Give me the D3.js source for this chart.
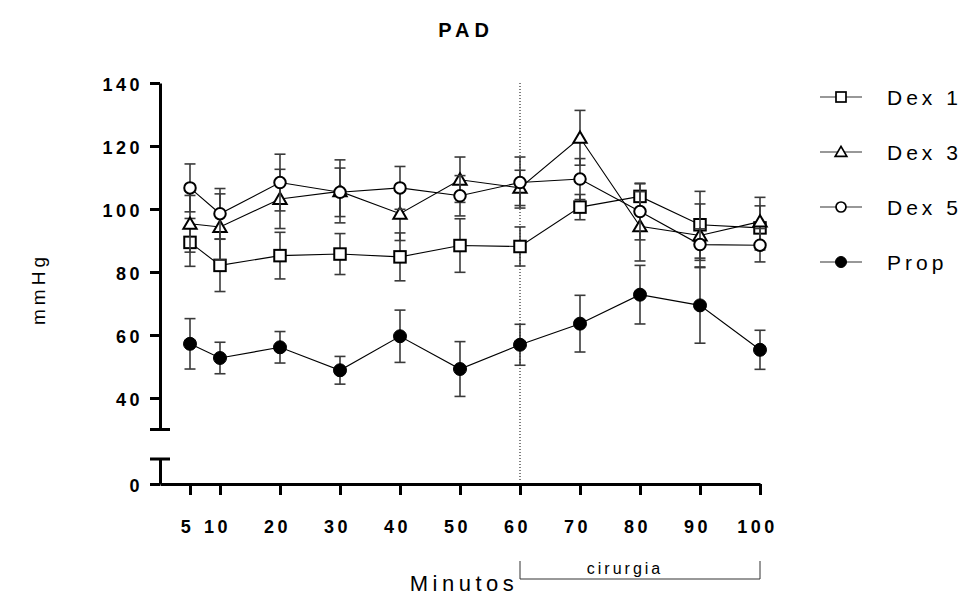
<!DOCTYPE html>
<html><head><meta charset="utf-8">
<script src="https://cdn.jsdelivr.net/npm/d3@7"></script>
<style>
html,body{margin:0;padding:0;background:#fff;}
text{font-family:"Liberation Sans",Arial,sans-serif;}
</style></head>
<body><svg id="c" width="966" height="612"></svg>
<script>
// ---- data ----
const times = [5, 10, 20, 30, 40, 50, 60, 70, 80, 90, 100];
const dex1Mean = [89.4, 82.1, 85.2, 85.7, 84.8, 88.4, 88.1, 100.6, 104.0, 95.0, 94.0];
const dex1SD   = [7.6, 8.3, 7.4, 6.5, 7.6, 8.5, 6.2, 4.0, 4.0, 10.6, 7.0];
const dex3Mean = [95.3, 94.3, 103.2, 105.6, 98.5, 109.3, 106.7, 122.6, 94.5, 91.6, 96.0];
const dex3SD   = [9.0, 10.5, 9.4, 10.0, 8.5, 7.2, 5.6, 8.7, 11.0, 10.0, 7.7];
const dex5Mean = [106.7, 98.5, 108.4, 105.3, 106.7, 104.2, 108.4, 109.5, 99.2, 88.7, 88.5];
const dex5SD   = [7.6, 8.0, 9.0, 7.7, 6.8, 6.4, 8.1, 6.5, 9.0, 5.0, 5.3];
const propMean = [57.2, 52.7, 56.1, 48.8, 59.6, 49.2, 56.9, 63.6, 72.8, 69.4, 55.3];
const propSD   = [8.0, 5.0, 5.0, 4.4, 8.3, 8.7, 6.5, 9.0, 9.3, 12.0, 6.2];
const seriesNames = ["Dex 1", "Dex 3", "Dex 5", "Prop"];
const xTicks = [5, 10, 20, 30, 40, 50, 60, 70, 80, 90, 100];
const yTicksUpper = [40, 60, 80, 100, 120, 140];
const yTicksLower = [0];
const surgeryStart = 60, surgeryEnd = 100;
const title = "PAD", xTitle = "Minutos", yTitle = "mmHg", surgeryLabel = "cirurgia";

// ---- layout ----
const svg = d3.select("#c");
const x = d3.scaleLinear().domain([0, 100]).range([160, 760]);
const yU = d3.scaleLinear().domain([30, 140]).range([429.5, 83]);
const yL = d3.scaleLinear().domain([0, 8]).range([484, 459]);
const font = '"Liberation Sans",Arial,sans-serif';

const series = [
  {name: seriesNames[0], mean: dex1Mean, sd: dex1SD, shape: "square", fill: "#fff"},
  {name: seriesNames[1], mean: dex3Mean, sd: dex3SD, shape: "triangle", fill: "#fff"},
  {name: seriesNames[2], mean: dex5Mean, sd: dex5SD, shape: "circle", fill: "#fff"},
  {name: seriesNames[3], mean: propMean, sd: propSD, shape: "circle", fill: "#000"}
];

// dotted surgery line
svg.append("line").attr("x1", x(surgeryStart)).attr("x2", x(surgeryStart))
  .attr("y1", yU(140)).attr("y2", yL(0) - 3)
  .attr("stroke", "#000").attr("stroke-width", 1).attr("stroke-dasharray", "1,2");

// axes
const axU = svg.append("g").attr("transform", `translate(${x(0)},0)`)
  .call(d3.axisLeft(yU).tickValues(yTicksUpper).tickSize(10).tickSizeOuter(0).tickFormat(d3.format("d")));
const axL = svg.append("g").attr("transform", `translate(${x(0)},0)`)
  .call(d3.axisLeft(yL).tickValues(yTicksLower).tickSize(10).tickSizeOuter(0).tickFormat(d3.format("d")));
const axX = svg.append("g").attr("transform", `translate(0,${yL(0)})`)
  .call(d3.axisBottom(x).tickValues(xTicks).tickSize(11).tickSizeOuter(0).tickFormat(d3.format("d")));

[axU, axL, axX].forEach(a => {
  a.select(".domain").attr("stroke", "#000").attr("stroke-width", 3);
  a.selectAll(".tick line").attr("stroke", "#000").attr("stroke-width", 3);
  a.selectAll(".tick text").attr("fill", "#000").style("font-family", font)
    .style("font-size", "18px").style("font-weight", "bold").style("letter-spacing", "3.5px");
});
[axU, axL].forEach(a => a.selectAll(".tick text").attr("x", -17).attr("dy", "0.42em"));
axX.selectAll(".tick text").attr("y", 49).attr("dy", 0).attr("dx", -3);
// break caps
[yU(30), yL(8)].forEach(yy => {
  svg.append("line").attr("x1", x(0) - 10).attr("x2", x(0) + 10).attr("y1", yy).attr("y2", yy)
    .attr("stroke", "#000").attr("stroke-width", 3);
});

// series
const capW = 5.5;
function sym(g, shape, size, fill, sw) {
  if (shape === "square") {
    g.append("rect").attr("x", -size / 2).attr("y", -size / 2).attr("width", size).attr("height", size)
      .attr("fill", fill).attr("stroke", "#000").attr("stroke-width", sw);
  } else if (shape === "triangle") {
    const h = size * 0.9;
    g.append("path").attr("d", `M0,${-h * 0.62}L${size * 0.58},${h * 0.48}L${-size * 0.58},${h * 0.48}Z`)
      .attr("fill", fill).attr("stroke", "#000").attr("stroke-width", sw).attr("stroke-linejoin", "miter");
  } else {
    g.append("circle").attr("r", size / 2).attr("fill", fill).attr("stroke", "#000").attr("stroke-width", sw);
  }
}
const line = d3.line().x(d => x(d.t)).y(d => yU(d.m));
series.forEach(s => {
  const pts = times.map((t, i) => ({t, m: s.mean[i], sd: s.sd[i]}));
  const g = svg.append("g");
  pts.forEach(p => {
    const eg = g.append("g").attr("stroke", "#3a3a3a").attr("stroke-width", 1.6);
    eg.append("line").attr("x1", x(p.t)).attr("x2", x(p.t)).attr("y1", yU(p.m + p.sd)).attr("y2", yU(p.m - p.sd));
    [p.m + p.sd, p.m - p.sd].forEach(v => eg.append("line")
      .attr("x1", x(p.t) - capW).attr("x2", x(p.t) + capW).attr("y1", yU(v)).attr("y2", yU(v)));
  });
  g.append("path").datum(pts).attr("d", line).attr("fill", "none").attr("stroke", "#000").attr("stroke-width", 1.1);
  pts.forEach(p => {
    const mg = g.append("g").attr("transform", `translate(${x(p.t)},${yU(p.m)})`);
    sym(mg, s.shape, s.fill === "#000" ? 13 : 11.5, s.fill, s.fill === "#000" ? 1 : 2);
  });
});

// legend
const legY = [97, 152, 207, 262];
series.forEach((s, i) => {
  const lg = svg.append("g").attr("transform", `translate(841,${legY[i]})`);
  lg.append("line").attr("x1", -21).attr("x2", 21).attr("stroke", "#333").attr("stroke-width", 1.2);
  sym(lg, s.shape, s.fill === "#000" ? 11 : 10, s.fill, s.fill === "#000" ? 1 : 1.7);
  lg.append("text").attr("x", 46).attr("y", 0).attr("dy", "0.36em").text(s.name)
    .style("font-size", "21px").style("letter-spacing", "4px").attr("fill", "#000");
});

// titles
svg.append("text").attr("x", 466).attr("y", 37).attr("text-anchor", "middle").text(title)
  .style("font-size", "20px").style("font-weight", "bold").style("letter-spacing", "5px");
svg.append("text").attr("x", 464).attr("y", 591).attr("text-anchor", "middle").text(xTitle)
  .style("font-size", "22px").style("letter-spacing", "4.5px");
svg.append("text").attr("transform", "translate(45,289) rotate(-90)").attr("text-anchor", "middle").text(yTitle)
  .style("font-size", "19px").style("letter-spacing", "4px");

// surgery bracket
svg.append("path")
  .attr("d", `M${x(surgeryStart)},561V579H${x(surgeryEnd)}V561`)
  .attr("fill", "none").attr("stroke", "#333").attr("stroke-width", 1);
svg.append("text").attr("x", 625).attr("y", 574).attr("text-anchor", "middle")
  .text(surgeryLabel).style("font-size", "16px").style("letter-spacing", "3px");
</script></body></html>
